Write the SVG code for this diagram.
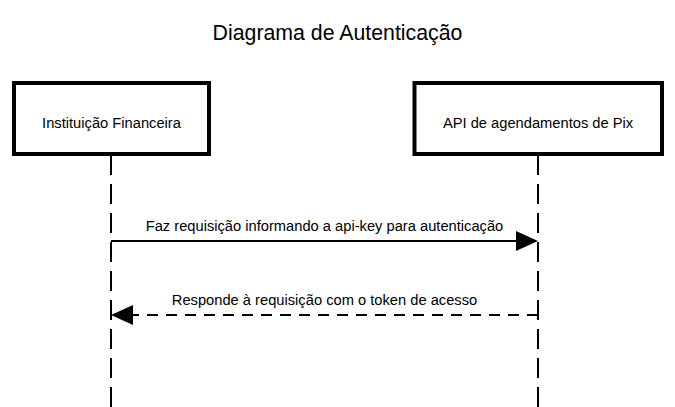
<svg xmlns="http://www.w3.org/2000/svg" width="675" height="407" viewBox="0 0 675 407">
<style>
text{font-family:"Liberation Sans",Arial,sans-serif;fill:#000;text-anchor:middle}
.title{font-size:21.3px}
.label{font-size:14.7px}
.msg{font-size:14.7px}
.box{fill:#fff;stroke:#000;stroke-width:4}
.life{stroke:#000;stroke-width:2;stroke-dasharray:20,9;fill:none}
.solid{stroke:#000;stroke-width:2;fill:none}
.dashed{stroke:#000;stroke-width:2;stroke-dasharray:11,8;fill:none}
.head{fill:#000}
</style>
<rect width="675" height="407" fill="#fff"/>
<text class="title" x="337.5" y="40">Diagrama de Autenticação</text>
<g id="connectors">
<line class="life" x1="111" y1="155" x2="111" y2="407"/>
<line class="life" x1="538" y1="155" x2="538" y2="407"/>
<line class="solid" x1="111" y1="241" x2="520" y2="241"/>
<polygon class="head" points="538,241 516,231 516,251"/>
<text class="msg" x="324.5" y="231">Faz requisição informando a api-key para autenticação</text>
<line class="dashed" x1="538" y1="315" x2="128" y2="315"/>
<polygon class="head" points="111,315 133,305 133,325"/>
<text class="msg" x="324.5" y="305">Responde à requisição com o token de acesso</text>
</g>
<g id="node-instituicao">
<rect class="box" x="14" y="83" width="195" height="71"/>
<text class="label" x="111.5" y="128">Instituição Financeira</text>
</g>
<g id="node-api">
<rect class="box" x="414.5" y="83" width="247.5" height="71"/>
<text class="label" x="538" y="128">API de agendamentos de Pix</text>
</g>
</svg>
